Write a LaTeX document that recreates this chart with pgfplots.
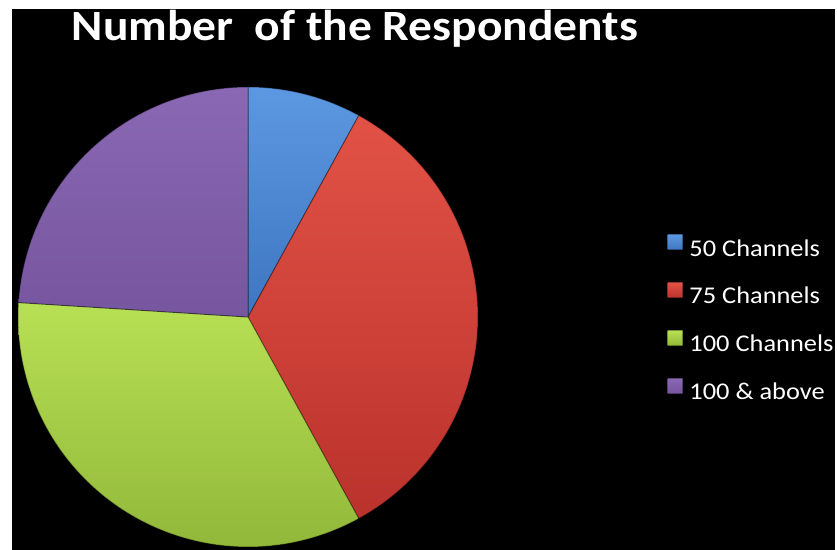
\documentclass[border=0pt]{standalone}
\usepackage{pgfplots}
\usepackage{pgfplotstable}
\pgfplotsset{compat=1.18}
\usepackage{fontspec}
\setmainfont{Carlito}

\definecolor{cblue}{RGB}{74,134,210}
\definecolor{cblueT}{RGB}{92,152,225}
\definecolor{cblueB}{RGB}{62,118,192}
\definecolor{cred}{RGB}{214,68,58}
\definecolor{credT}{RGB}{226,82,70}
\definecolor{credB}{RGB}{186,50,44}
\definecolor{cgreen}{RGB}{168,206,72}
\definecolor{cgreenT}{RGB}{184,224,84}
\definecolor{cgreenB}{RGB}{146,184,58}
\definecolor{cpurple}{RGB}{126,94,168}
\definecolor{cpurpleT}{RGB}{138,104,180}
\definecolor{cpurpleB}{RGB}{118,86,158}

% Number of respondents (share of each category)
\pgfplotstableread{
slice value
1 8
2 34
3 34
4 24
}\datatable

\pgfplotstablegetelem{0}{value}\of\datatable \let\vA\pgfplotsretval
\pgfplotstablegetelem{1}{value}\of\datatable \let\vB\pgfplotsretval
\pgfplotstablegetelem{2}{value}\of\datatable \let\vC\pgfplotsretval
\pgfplotstablegetelem{3}{value}\of\datatable \let\vD\pgfplotsretval
\pgfmathsetmacro\tot{\vA+\vB+\vC+\vD}
\pgfmathsetmacro\aO{90}
\pgfmathsetmacro\aA{\aO-360*\vA/\tot}
\pgfmathsetmacro\aB{\aA-360*\vB/\tot}
\pgfmathsetmacro\aC{\aB-360*\vC/\tot}
\pgfmathsetmacro\aD{\aC-360*\vD/\tot}

\newcommand\legtxt[1]{\scalebox{1.1}[1]{#1}}

\begin{document}
\begin{tikzpicture}
\path[use as bounding box] (0pt,0pt) rectangle (418.5pt,275pt);
\fill[white] (0pt,0pt) rectangle (418.5pt,275pt);
\fill[black] (6pt,0pt) rectangle (417.5pt,270.5pt);

\node[anchor=base, text=white, font=\bfseries\fontsize{21.6}{26}\selectfont, inner sep=0pt]
  at (177.5pt,254.5pt) {\scalebox{1.1}[1]{Number\ \ of the Respondents}};

\begin{axis}[
  at={(124pt,116.5pt)}, anchor=center,
  x=115pt, y=115pt,
  xmin=-1, xmax=1, ymin=-1, ymax=1,
  hide axis, clip=false,
  legend image code/.code={\fill[#1] (0pt,-0.6pt) rectangle (7.5pt,6.9pt);},
  legend style={
    at={(axis cs:1.822,0)}, anchor=west,
    draw=none, fill=none, text=white,
    inner sep=0pt, outer sep=0pt,
    row sep=13pt, column sep=3.2pt,
    font=\fontsize{12}{13}\selectfont,
    nodes={inner sep=0pt, text height=7.5pt, text depth=0pt},
  },
  legend cell align=left,
]
\addplot[draw=black, draw opacity=0.35, line width=0.5pt, top color=cblueT, bottom color=cblueB,
  domain=\aA:\aO, samples=40, variable=\t]
  ({cos(\t)},{sin(\t)}) -- (axis cs:0,0) -- cycle;
\addlegendentry{\legtxt{50 Channels}}
\addplot[draw=black, draw opacity=0.35, line width=0.5pt, top color=credT, bottom color=credB,
  domain=\aB:\aA, samples=100, variable=\t]
  ({cos(\t)},{sin(\t)}) -- (axis cs:0,0) -- cycle;
\addlegendentry{\legtxt{75 Channels}}
\addplot[draw=black, draw opacity=0.35, line width=0.5pt, top color=cgreenT, bottom color=cgreenB,
  domain=\aC:\aB, samples=100, variable=\t]
  ({cos(\t)},{sin(\t)}) -- (axis cs:0,0) -- cycle;
\addlegendentry{\legtxt{100 Channels}}
\addplot[draw=black, draw opacity=0.35, line width=0.5pt, top color=cpurpleT, bottom color=cpurpleB,
  domain=\aD:\aC, samples=80, variable=\t]
  ({cos(\t)},{sin(\t)}) -- (axis cs:0,0) -- cycle;
\addlegendentry{\legtxt{100 \& above}}
\end{axis}
\end{tikzpicture}
\end{document}
